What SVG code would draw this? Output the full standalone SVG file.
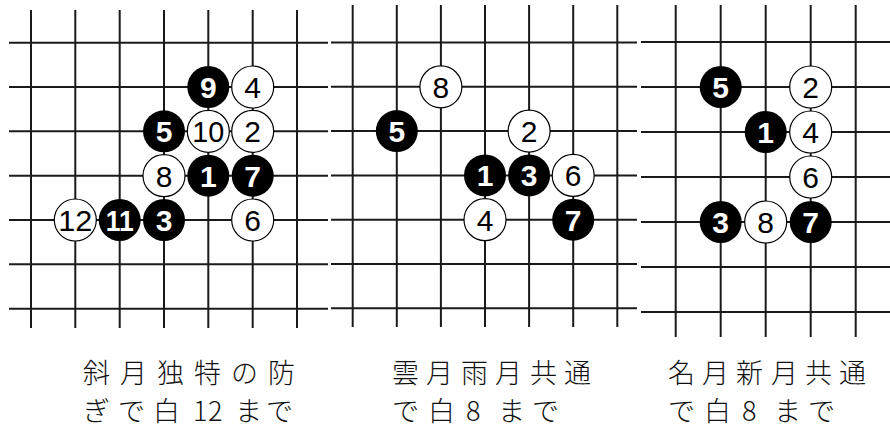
<svg xmlns="http://www.w3.org/2000/svg" width="890" height="428" viewBox="0 0 890 428">
<style>
.grid line{stroke:#1a1a1a;stroke-width:2;stroke-linecap:butt}
.b circle{fill:#000}
.w circle{fill:#fff;stroke:#000;stroke-width:1.2}
.b text,.w text{font-family:"Liberation Sans","DejaVu Sans",sans-serif;font-size:30px;text-anchor:middle}
.b text{fill:#fff;font-weight:bold}
.w text{fill:#000}
.cap{font-family:"Noto Sans CJK JP","Noto Sans CJK SC",sans-serif;font-size:27px;font-weight:300;fill:#111}
</style>
<rect width="890" height="428" fill="#fff"/>

<g id="board1">
<g class="grid" id="grid1">
<line x1="9" y1="42.7" x2="328" y2="42.7"/>
<line x1="9" y1="87" x2="328" y2="87"/>
<line x1="9" y1="131.3" x2="328" y2="131.3"/>
<line x1="9" y1="175.7" x2="328" y2="175.7"/>
<line x1="9" y1="220" x2="328" y2="220"/>
<line x1="9" y1="264.3" x2="328" y2="264.3"/>
<line x1="9" y1="308.7" x2="328" y2="308.7"/>
<line x1="31" y1="10" x2="31" y2="328"/>
<line x1="75.3" y1="10" x2="75.3" y2="328"/>
<line x1="119.7" y1="10" x2="119.7" y2="328"/>
<line x1="164" y1="10" x2="164" y2="328"/>
<line x1="208.3" y1="10" x2="208.3" y2="328"/>
<line x1="252.7" y1="10" x2="252.7" y2="328"/>
<line x1="297" y1="10" x2="297" y2="328"/>
</g>
<g id="b1-9" class="b"><circle cx="208.3" cy="87" r="21"/><text x="208.3" y="98">9</text></g>
<g id="b1-4" class="w"><circle cx="252.7" cy="87" r="21"/><text x="252.7" y="98">4</text></g>
<g id="b1-5" class="b"><circle cx="164" cy="131.3" r="21"/><text x="164" y="142.3">5</text></g>
<g id="b1-10" class="w"><circle cx="208.3" cy="131.3" r="21"/><text x="208.3" y="142.3" textLength="32" lengthAdjust="spacingAndGlyphs">10</text></g>
<g id="b1-2" class="w"><circle cx="252.7" cy="131.3" r="21"/><text x="252.7" y="142.3">2</text></g>
<g id="b1-8" class="w"><circle cx="164" cy="175.7" r="21"/><text x="164" y="186.7">8</text></g>
<g id="b1-1" class="b"><circle cx="208.3" cy="175.7" r="21"/><text x="208.3" y="186.7">1</text></g>
<g id="b1-7" class="b"><circle cx="252.7" cy="175.7" r="21"/><text x="252.7" y="186.7">7</text></g>
<g id="b1-12" class="w"><circle cx="75.3" cy="220" r="21"/><text x="75.3" y="231" textLength="34" lengthAdjust="spacingAndGlyphs">12</text></g>
<g id="b1-11" class="b"><circle cx="119.7" cy="220" r="21"/><text x="119.7" y="231" textLength="28" lengthAdjust="spacingAndGlyphs">11</text></g>
<g id="b1-3" class="b"><circle cx="164" cy="220" r="21"/><text x="164" y="231">3</text></g>
<g id="b1-6" class="w"><circle cx="252.7" cy="220" r="21"/><text x="252.7" y="231">6</text></g>
<g id="cap1">
<text class="cap" x="83 120 157 194 231 268" y="383">斜月独特の防</text>
<text class="cap" x="83 118 153 193 208 235 266" y="421">ぎで白12まで</text>
</g>
</g>

<g id="board2">
<g class="grid" id="grid2">
<line x1="331" y1="42.5" x2="637" y2="42.5"/>
<line x1="331" y1="86.8" x2="637" y2="86.8"/>
<line x1="331" y1="131.1" x2="637" y2="131.1"/>
<line x1="331" y1="175.4" x2="637" y2="175.4"/>
<line x1="331" y1="219.7" x2="637" y2="219.7"/>
<line x1="331" y1="264" x2="637" y2="264"/>
<line x1="331" y1="308.3" x2="637" y2="308.3"/>
<line x1="352.7" y1="5" x2="352.7" y2="327"/>
<line x1="396.8" y1="5" x2="396.8" y2="327"/>
<line x1="440.9" y1="5" x2="440.9" y2="327"/>
<line x1="485" y1="5" x2="485" y2="327"/>
<line x1="529.1" y1="5" x2="529.1" y2="327"/>
<line x1="573.2" y1="5" x2="573.2" y2="327"/>
<line x1="617.3" y1="5" x2="617.3" y2="327"/>
</g>
<g id="b2-8" class="w"><circle cx="440.9" cy="86.8" r="21"/><text x="440.9" y="97.8">8</text></g>
<g id="b2-5" class="b"><circle cx="396.8" cy="131.1" r="21"/><text x="396.8" y="142.1">5</text></g>
<g id="b2-2" class="w"><circle cx="529.1" cy="131.1" r="21"/><text x="529.1" y="142.1">2</text></g>
<g id="b2-1" class="b"><circle cx="485" cy="175.4" r="21"/><text x="485" y="186.4">1</text></g>
<g id="b2-3" class="b"><circle cx="529.1" cy="175.4" r="21"/><text x="529.1" y="186.4">3</text></g>
<g id="b2-6" class="w"><circle cx="573.2" cy="175.4" r="21"/><text x="573.2" y="186.4">6</text></g>
<g id="b2-4" class="w"><circle cx="485" cy="219.7" r="21"/><text x="485" y="230.7">4</text></g>
<g id="b2-7" class="b"><circle cx="573.2" cy="219.7" r="21"/><text x="573.2" y="230.7">7</text></g>
<g id="cap2">
<text class="cap" x="392 426 461 495 530 564" y="383">雲月雨月共通</text>
<text class="cap" x="392 428 466 498 532" y="421">で白8まで</text>
</g>
</g>

<g id="board3">
<g class="grid" id="grid3">
<line x1="641" y1="42" x2="890" y2="42"/>
<line x1="641" y1="87" x2="890" y2="87"/>
<line x1="641" y1="132" x2="890" y2="132"/>
<line x1="641" y1="177" x2="890" y2="177"/>
<line x1="641" y1="222" x2="890" y2="222"/>
<line x1="641" y1="267" x2="890" y2="267"/>
<line x1="641" y1="312" x2="890" y2="312"/>
<line x1="675.7" y1="5" x2="675.7" y2="337"/>
<line x1="720.7" y1="5" x2="720.7" y2="337"/>
<line x1="765.7" y1="5" x2="765.7" y2="337"/>
<line x1="810.7" y1="5" x2="810.7" y2="337"/>
<line x1="855.7" y1="5" x2="855.7" y2="337"/>
</g>
<g id="b3-5" class="b"><circle cx="720.7" cy="87" r="21"/><text x="720.7" y="98">5</text></g>
<g id="b3-2" class="w"><circle cx="810.7" cy="87" r="21"/><text x="810.7" y="98">2</text></g>
<g id="b3-1" class="b"><circle cx="765.7" cy="132" r="21"/><text x="765.7" y="143">1</text></g>
<g id="b3-4" class="w"><circle cx="810.7" cy="132" r="21"/><text x="810.7" y="143">4</text></g>
<g id="b3-6" class="w"><circle cx="810.7" cy="177" r="21"/><text x="810.7" y="188">6</text></g>
<g id="b3-3" class="b"><circle cx="720.7" cy="222" r="21"/><text x="720.7" y="233">3</text></g>
<g id="b3-8" class="w"><circle cx="765.7" cy="222" r="21"/><text x="765.7" y="233">8</text></g>
<g id="b3-7" class="b"><circle cx="810.7" cy="222" r="21"/><text x="810.7" y="233">7</text></g>
<g id="cap3">
<text class="cap" x="668 702 736 771 805 839" y="383">名月新月共通</text>
<text class="cap" x="668 704 742 774 808" y="421">で白8まで</text>
</g>
</g>
</svg>
